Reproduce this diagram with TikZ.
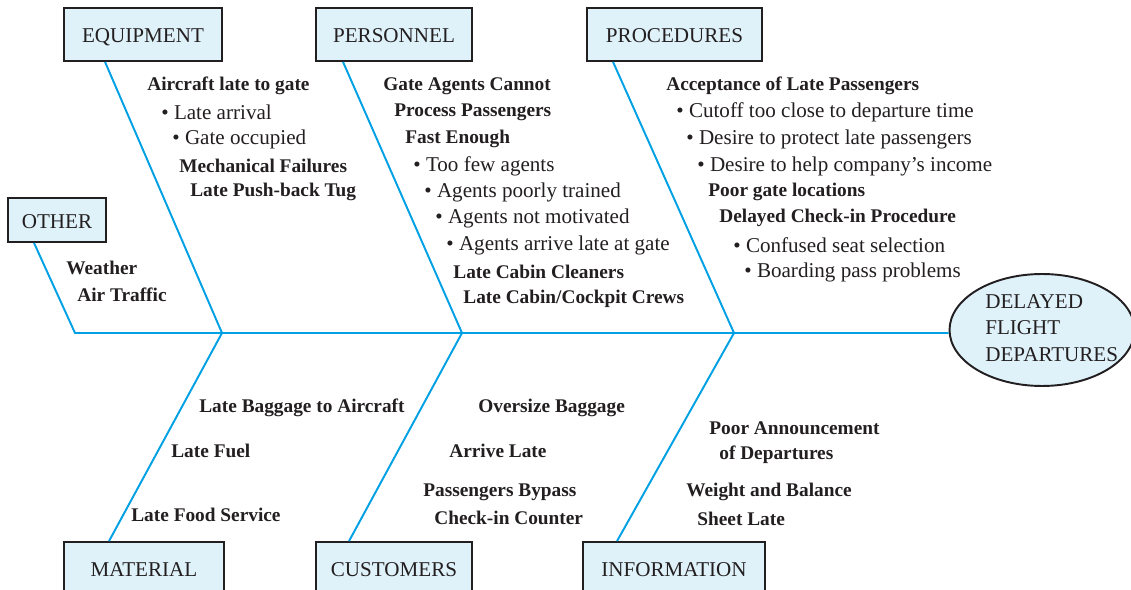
\documentclass[tikz,border=0pt]{standalone}
\usepackage{fontspec}
\setmainfont{Liberation Serif}
\usetikzlibrary{shapes,positioning,calc}
\definecolor{bone}{RGB}{0,161,228}
\definecolor{boxfill}{RGB}{223,242,250}
\definecolor{ink}{RGB}{35,31,32}
\newcommand{\labelfont}{\fontsize{12}{15}\selectfont}
\newcommand{\causefont}{\fontsize{11}{15}\selectfont\bfseries}
\tikzstyle{category} = [draw=ink, fill=boxfill, rectangle, line width=1.1pt, text=ink, font=\labelfont, minimum height=1.06cm, text height=2ex, text depth=0pt]
\tikzstyle{cause} = [anchor=west, inner sep=0pt, text=ink, font=\causefont]
\tikzstyle{item} = [anchor=west, inner sep=0pt, text=ink, font=\labelfont]
\tikzstyle{effect} = [draw=ink, fill=boxfill, ellipse, line width=1.1pt, minimum width=3.7cm, minimum height=2.24cm]
\tikzstyle{line} = [draw=bone, line width=1.1pt]

\begin{document}
\begin{tikzpicture}[x=0.02cm, y=-0.02cm]
    \clip (0,0) rectangle (1131,590);
    \fill[white] (0,0) rectangle (1131,590);

    % Head of the fish
    \node [effect] (goal) at (1042,330) {};
    \node [item, align=left] (goaltext) at (985,328) {DELAYED\\FLIGHT\\DEPARTURES};

    % Spine and junctions
    \coordinate (tail) at (75,333);
    \coordinate (j1) at (222,333);
    \coordinate (j2) at (462,333);
    \coordinate (j3) at (734,333);

    % Category boxes
    \node [category, minimum width=3.16cm] (equip) at (143,34.5) {EQUIPMENT};
    \node [category, minimum width=3.12cm] (staff) at (394,34.5) {PERSONNEL};
    \node [category, minimum width=3.5cm] (proc) at (674.5,34.5) {PROCEDURES};
    \node [category, minimum width=1.96cm, minimum height=0.88cm] (other) at (57,220) {OTHER};
    \node [category, minimum width=3.2cm] (mat) at (144,568.5) {MATERIAL};
    \node [category, minimum width=3.12cm] (cust) at (394,568.5) {CUSTOMERS};
    \node [category, minimum width=3.64cm] (info) at (674,568.5) {INFORMATION};

    % Bones
    \draw [line] ($(other.south west)+(27,0)$) -- (tail) -- (goal.west |- tail);
    \draw [line] ($(equip.south west)+(42,0)$) -- (j1);
    \draw [line] ($(staff.south west)+(28,0)$) -- (j2);
    \draw [line] ($(proc.south west)+(27,0)$) -- (j3);
    \draw [line] (j1) -- ($(mat.north west)+(46,0)$);
    \draw [line] (j2) -- ($(cust.north west)+(34,0)$);
    \draw [line] (j3) -- ($(info.north west)+(35,0)$);

    % Equipment causes
    \node [cause] (e1) at (147,86) {Aircraft late to gate};
    \node [item] (e2) at (161,112) {\textbullet\ Late arrival};
    \node [item] (e3) at (172,139) {\textbullet\ Gate occupied};
    \node [cause] (e4) at (179,166) {Mechanical Failures};
    \node [cause] (e5) at (190,192) {Late Push-back Tug};

    % Personnel causes
    \node [cause] (s1) at (383,86) {Gate Agents Cannot};
    \node [cause] (s2) at (394,112) {Process Passengers};
    \node [cause] (s3) at (405,139) {Fast Enough};
    \node [item] (s4) at (413,166) {\textbullet\ Too few agents};
    \node [item] (s5) at (424,192) {\textbullet\ Agents poorly trained};
    \node [item] (s6) at (435,218) {\textbullet\ Agents not motivated};
    \node [item] (s7) at (446,245) {\textbullet\ Agents arrive late at gate};
    \node [cause] (s8) at (453,272) {Late Cabin Cleaners};
    \node [cause] (s9) at (463,299) {Late Cabin/Cockpit Crews};

    % Procedure causes
    \node [cause] (p1) at (666,86) {Acceptance of Late Passengers};
    \node [item] (p2) at (676,112) {\textbullet\ Cutoff too close to departure time};
    \node [item] (p3) at (686,139) {\textbullet\ Desire to protect late passengers};
    \node [item] (p4) at (697,166) {\textbullet\ Desire to help company's income};
    \node [cause] (p5) at (708,192) {Poor gate locations};
    \node [cause] (p6) at (719,218) {Delayed Check-in Procedure};
    \node [item] (p7) at (733,245) {\textbullet\ Confused seat selection};
    \node [item] (p8) at (744,272) {\textbullet\ Boarding pass problems};

    % Other causes
    \node [cause] (o1) at (66,268) {Weather};
    \node [cause] (o2) at (77,295) {Air Traffic};

    % Material causes
    \node [cause] (m1) at (199,408) {Late Baggage to Aircraft};
    \node [cause] (m2) at (171,451) {Late Fuel};
    \node [cause] (m3) at (131,515) {Late Food Service};

    % Customer causes
    \node [cause] (c1) at (478,408) {Oversize Baggage};
    \node [cause] (c2) at (449,451) {Arrive Late};
    \node [cause] (c3) at (423,492) {Passengers Bypass};
    \node [cause] (c4) at (434,518) {Check-in Counter};

    % Information causes
    \node [cause] (i1) at (709,428) {Poor Announcement};
    \node [cause] (i2) at (719,455) {of Departures};
    \node [cause] (i3) at (686,492) {Weight and Balance};
    \node [cause] (i4) at (697,519) {Sheet Late};
\end{tikzpicture}
\end{document}
